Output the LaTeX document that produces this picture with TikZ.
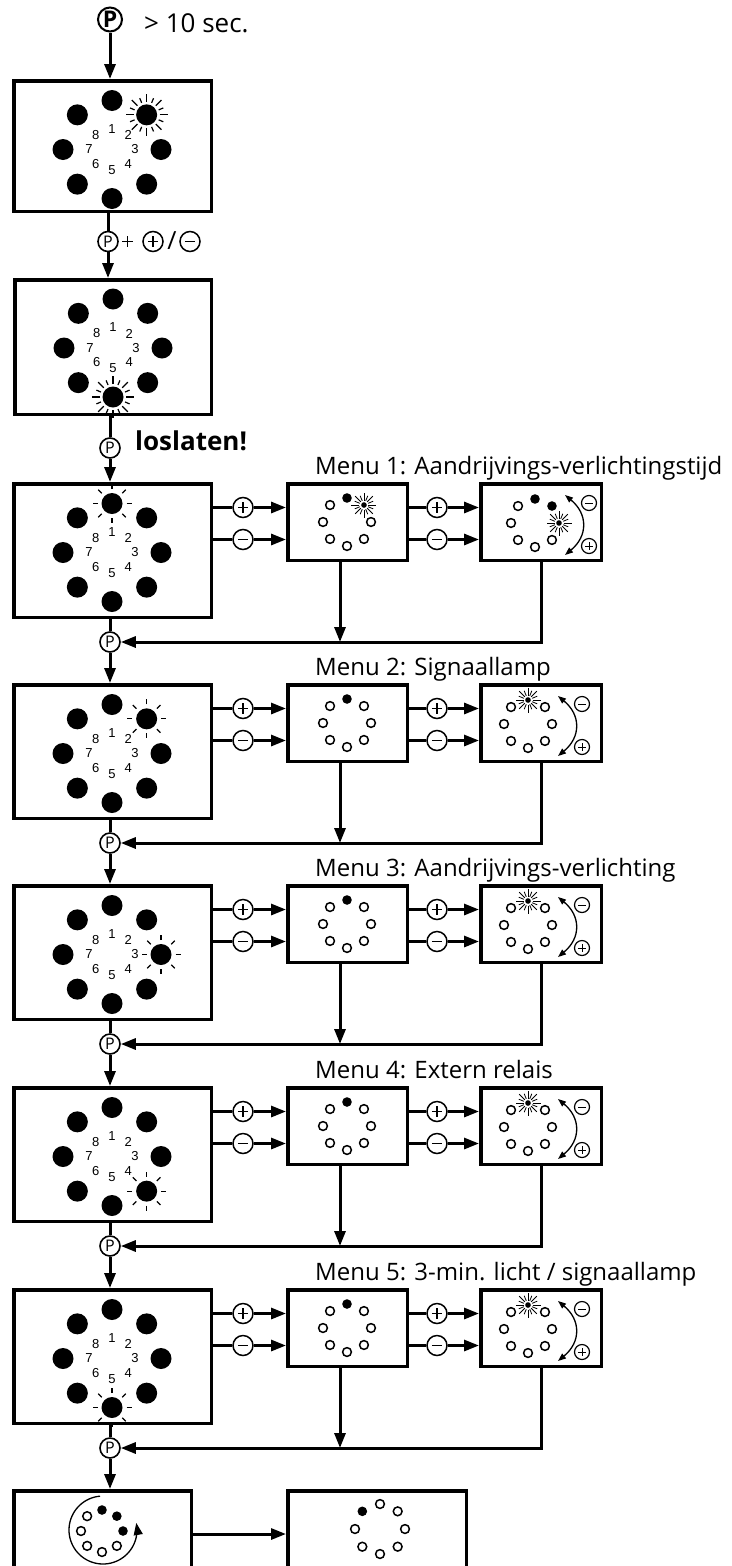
\documentclass[tikz,border=0pt]{standalone}
\usepackage{fontspec}
\setmainfont{Open Sans}
\newfontfamily\digitfont{Liberation Sans}
\usetikzlibrary{arrows.meta}

% rays round a lit led
\newcommand{\sunrays}{%
  \foreach \ang in {0,45,...,315} \draw[ray] (\ang:14.5) -- (\ang:19.5);}
\newcommand{\sparkrays}{%
  \foreach \ang [count=\q] in {0,22.5,...,337.5} {
    \pgfmathsetmacro\raylen{mod(\q,2)==1 ? 21 : 18}
    \draw[ray] (\ang:13) -- (\ang:\raylen);}}

% big led ring with digits: centre, lit led, rays
\newcommand{\ledring}[3]{%
  \begin{scope}[shift={#1}]
    \foreach \led in {1,...,8} {
      \fill (-135+45*\led:49) circle (10.5pt);
      \node[digit] (n\led) at (-135+45*\led:23 and 20.5) {\led};
    }
    \begin{scope}[shift={(-135+45*#2:49)}]
      #3
    \end{scope}
  \end{scope}}

% small led ring: centre, radius, states (0 off, 1 on, 2 flashing)
\newcommand{\minring}[3]{%
  \edef\ringstates{#3}%
  \begin{scope}[shift={#1}]
    \foreach \st [count=\led] in \ringstates {
      \begin{scope}[shift={(-135+45*\led:#2)}]
        \ifcase\st
          \draw[line width=1.5pt] (0,0) circle (4.4pt);
        \or
          \fill (0,0) circle (4.8pt);
        \or
          \fill (0,0) circle (2.8pt);
          \foreach \ang [count=\q] in {0,22.5,...,337.5} {
            \pgfmathsetmacro\raylen{mod(\q,2)==1 ? 12.5 : 10}
            \draw[line width=0.8pt] (\ang:4.5) -- (\ang:\raylen);}
        \fi
      \end{scope}
    }
  \end{scope}}

\begin{document}
\begin{tikzpicture}[x=1pt, y=-1pt,
  mainbox/.style={draw, line width=3.5pt, inner sep=0pt, minimum width=197.5pt, minimum height=133.5pt},
  smallbox/.style={draw, line width=3.5pt, inner sep=0pt, minimum width=119.5pt, minimum height=76.5pt},
  pbtn/.style={circle, draw, line width=1.6pt, inner sep=0pt, minimum size=20pt, fill=white, font=\fontsize{16}{16}\selectfont},
  btn/.style={circle, draw, line width=1.5pt, inner sep=0pt, minimum size=#1, fill=white},
  sign/.style={line width=1.2pt},
  pluskey/.style={btn=#1, path picture={\draw[sign]
      ([xshift=-0.26*#1]path picture bounding box.center) -- ([xshift=0.26*#1]path picture bounding box.center)
      ([yshift=-0.26*#1]path picture bounding box.center) -- ([yshift=0.26*#1]path picture bounding box.center);}},
  minuskey/.style={btn=#1, path picture={\draw[sign]
      ([xshift=-0.26*#1]path picture bounding box.center) -- ([xshift=0.26*#1]path picture bounding box.center);}},
  tiny/.style={line width=1.2pt, sign/.style={line width=1pt}},
  menu/.style={anchor=base west, inner sep=0pt, font=\fontsize{24}{24}\selectfont},
  digit/.style={inner sep=0pt, font=\digitfont\fontsize{13}{13}\selectfont},
  ray/.style={line width=1.2pt},
  link/.style={line width=3pt},
  arrow/.style={line width=3pt, -{Triangle[length=15pt, width=11pt]}},
  turn/.style={line width=1.3pt, {Triangle[length=8pt, width=6pt]}-{Triangle[length=8pt, width=6pt]}}
]
\path[use as bounding box] (0,0) rectangle (731,1566);
\clip (0,0) rectangle (731,1566);

% hold P, pick a led
\node[pbtn, minimum size=24pt, line width=2pt, font=\bfseries\fontsize{23}{23}\selectfont] (P0) at (110,19.5) {P};
\node[menu, font=\fontsize{26}{26}\selectfont] (hold) at (144,32) {> 10 sec.};
\node[mainbox, minimum height=130.5pt] (B0) at (112.5,146) {};
\ledring{(112,149.5)}{2}{\sparkrays}
\node[pbtn] (P1) at (108,241.5) {P};
\node[minimum size=11pt, inner sep=0pt, path picture={\draw[line width=1.6pt]
    (path picture bounding box.west) -- (path picture bounding box.east)
    (path picture bounding box.north) -- (path picture bounding box.south);}] (plus) at (127.5,241.5) {};
\node[pluskey=20pt] (kp) at (153,241.5) {};
\node[inner sep=0pt, font=\fontsize{25}{25}\selectfont] (slash) at (172,241) {/};
\node[minuskey=20pt] (km) at (190,241.5) {};
\node[mainbox, minimum width=196.5pt, minimum height=134.5pt] (B1) at (113,347) {};
\ledring{(113,348)}{5}{\sparkrays}
\node[pbtn] (R0) at (110,448) {P};
\node[anchor=base west, inner sep=0pt, font=\bfseries\fontsize{26}{26}\selectfont] (release) at (135,450) {loslaten!};

\draw[arrow] (P0) -- (P0 |- B0.north);
\draw[link] (B0.south -| P1) -- (P1);
\draw[arrow] (P1) -- (P1 |- B1.north);
\draw[link] (B1.south -| R0) -- (R0);

% the five menus
\foreach \m/\ty/\lab/\ringa/\ringb/\cx in {
  1/482/{Menu 1: Aandrijvings-verlichtingstijd}/{1,2,0,0,0,0,0,0}/{1,1,2,0,0,0,0,0}/535,
  2/683/{Menu 2: Signaallamp}/{1,0,0,0,0,0,0,0}/{2,0,0,0,0,0,0,0}/528,
  3/884/{Menu 3: Aandrijvings-verlichting}/{1,0,0,0,0,0,0,0}/{2,0,0,0,0,0,0,0}/528,
  4/1086/{Menu 4: Extern relais}/{1,0,0,0,0,0,0,0}/{2,0,0,0,0,0,0,0}/528,
  5/1288/{Menu 5: 3-min. licht / signaallamp}/{1,0,0,0,0,0,0,0}/{2,0,0,0,0,0,0,0}/528} {
  \pgfmathtruncatemacro\prev{\m-1}
  \node[menu] (lab\m) at (315,\ty-8) {\lab};
  \node[mainbox] (M\m) at (112.5,\ty+68.5) {};
  \ledring{(112,\ty+70.5)}{\m}{\sunrays}
  \node[smallbox] (S\m) at (347.5,\ty+40) {};
  \minring{(347,\ty+40)}{24}{\ringa}
  \node[smallbox, minimum width=120.5pt] (T\m) at (541,\ty+40) {};
  \minring{(\cx,\ty+41)}{24}{\ringb}
  \coordinate (up\m) at (\cx+30,\ty+13);
  \coordinate (dn\m) at (\cx+30,\ty+73);
  \draw[turn] (up\m) .. controls +(23,19) and +(23,-19) .. (dn\m);
  \node[minuskey=15pt, tiny] (tm\m) at (\cx+54,\ty+21) {};
  \node[pluskey=15pt, tiny] (tp\m) at (\cx+54,\ty+64) {};
  \node[pluskey=20pt] (pa\m) at (243,\ty+25.5) {};
  \node[minuskey=20pt] (ma\m) at (243,\ty+57.5) {};
  \node[pluskey=20pt] (pb\m) at (437,\ty+25.5) {};
  \node[minuskey=20pt] (mb\m) at (437,\ty+57.5) {};
  \node[pbtn] (R\m) at (110,\ty+160) {P};
  \coordinate (drop\m) at ([xshift=-7.5pt]S\m.south);

  \draw[arrow] (R\prev) -- (R\prev |- M\m.north);
  \draw[link] (M\m.east |- pa\m) -- (pa\m);
  \draw[arrow] (pa\m) -- (S\m.west |- pa\m);
  \draw[link] (M\m.east |- ma\m) -- (ma\m);
  \draw[arrow] (ma\m) -- (S\m.west |- ma\m);
  \draw[link] (S\m.east |- pb\m) -- (pb\m);
  \draw[arrow] (pb\m) -- (T\m.west |- pb\m);
  \draw[link] (S\m.east |- mb\m) -- (mb\m);
  \draw[arrow] (mb\m) -- (T\m.west |- mb\m);
  \draw[arrow] (drop\m) -- (drop\m |- R\m);
  \draw[arrow] (T\m.south) |- (R\m);
  \draw[link] (M\m.south -| R\m) -- (R\m);
}

% leave the menu
\node[mainbox, minimum width=177.5pt, minimum height=86.5pt] (E1) at (102.5,1534) {};
\node[mainbox, minimum width=178.5pt, minimum height=86.5pt] (E2) at (377,1534) {};
\minring{(102,1531)}{21}{1,1,1,0,0,0,0,0}
\draw[line width=1.3pt, -{Triangle[length=12pt, width=9pt]}] plot[domain=265:-12, samples=60] ({103+34*cos(\x)}, {1530+34*sin(\x)});
\minring{(380,1529)}{25}{0,0,0,0,0,0,0,1}
\draw[arrow] (R5) -- (R5 |- E1.north);
\draw[arrow] (E1) -- (E2);
\end{tikzpicture}
\end{document}
